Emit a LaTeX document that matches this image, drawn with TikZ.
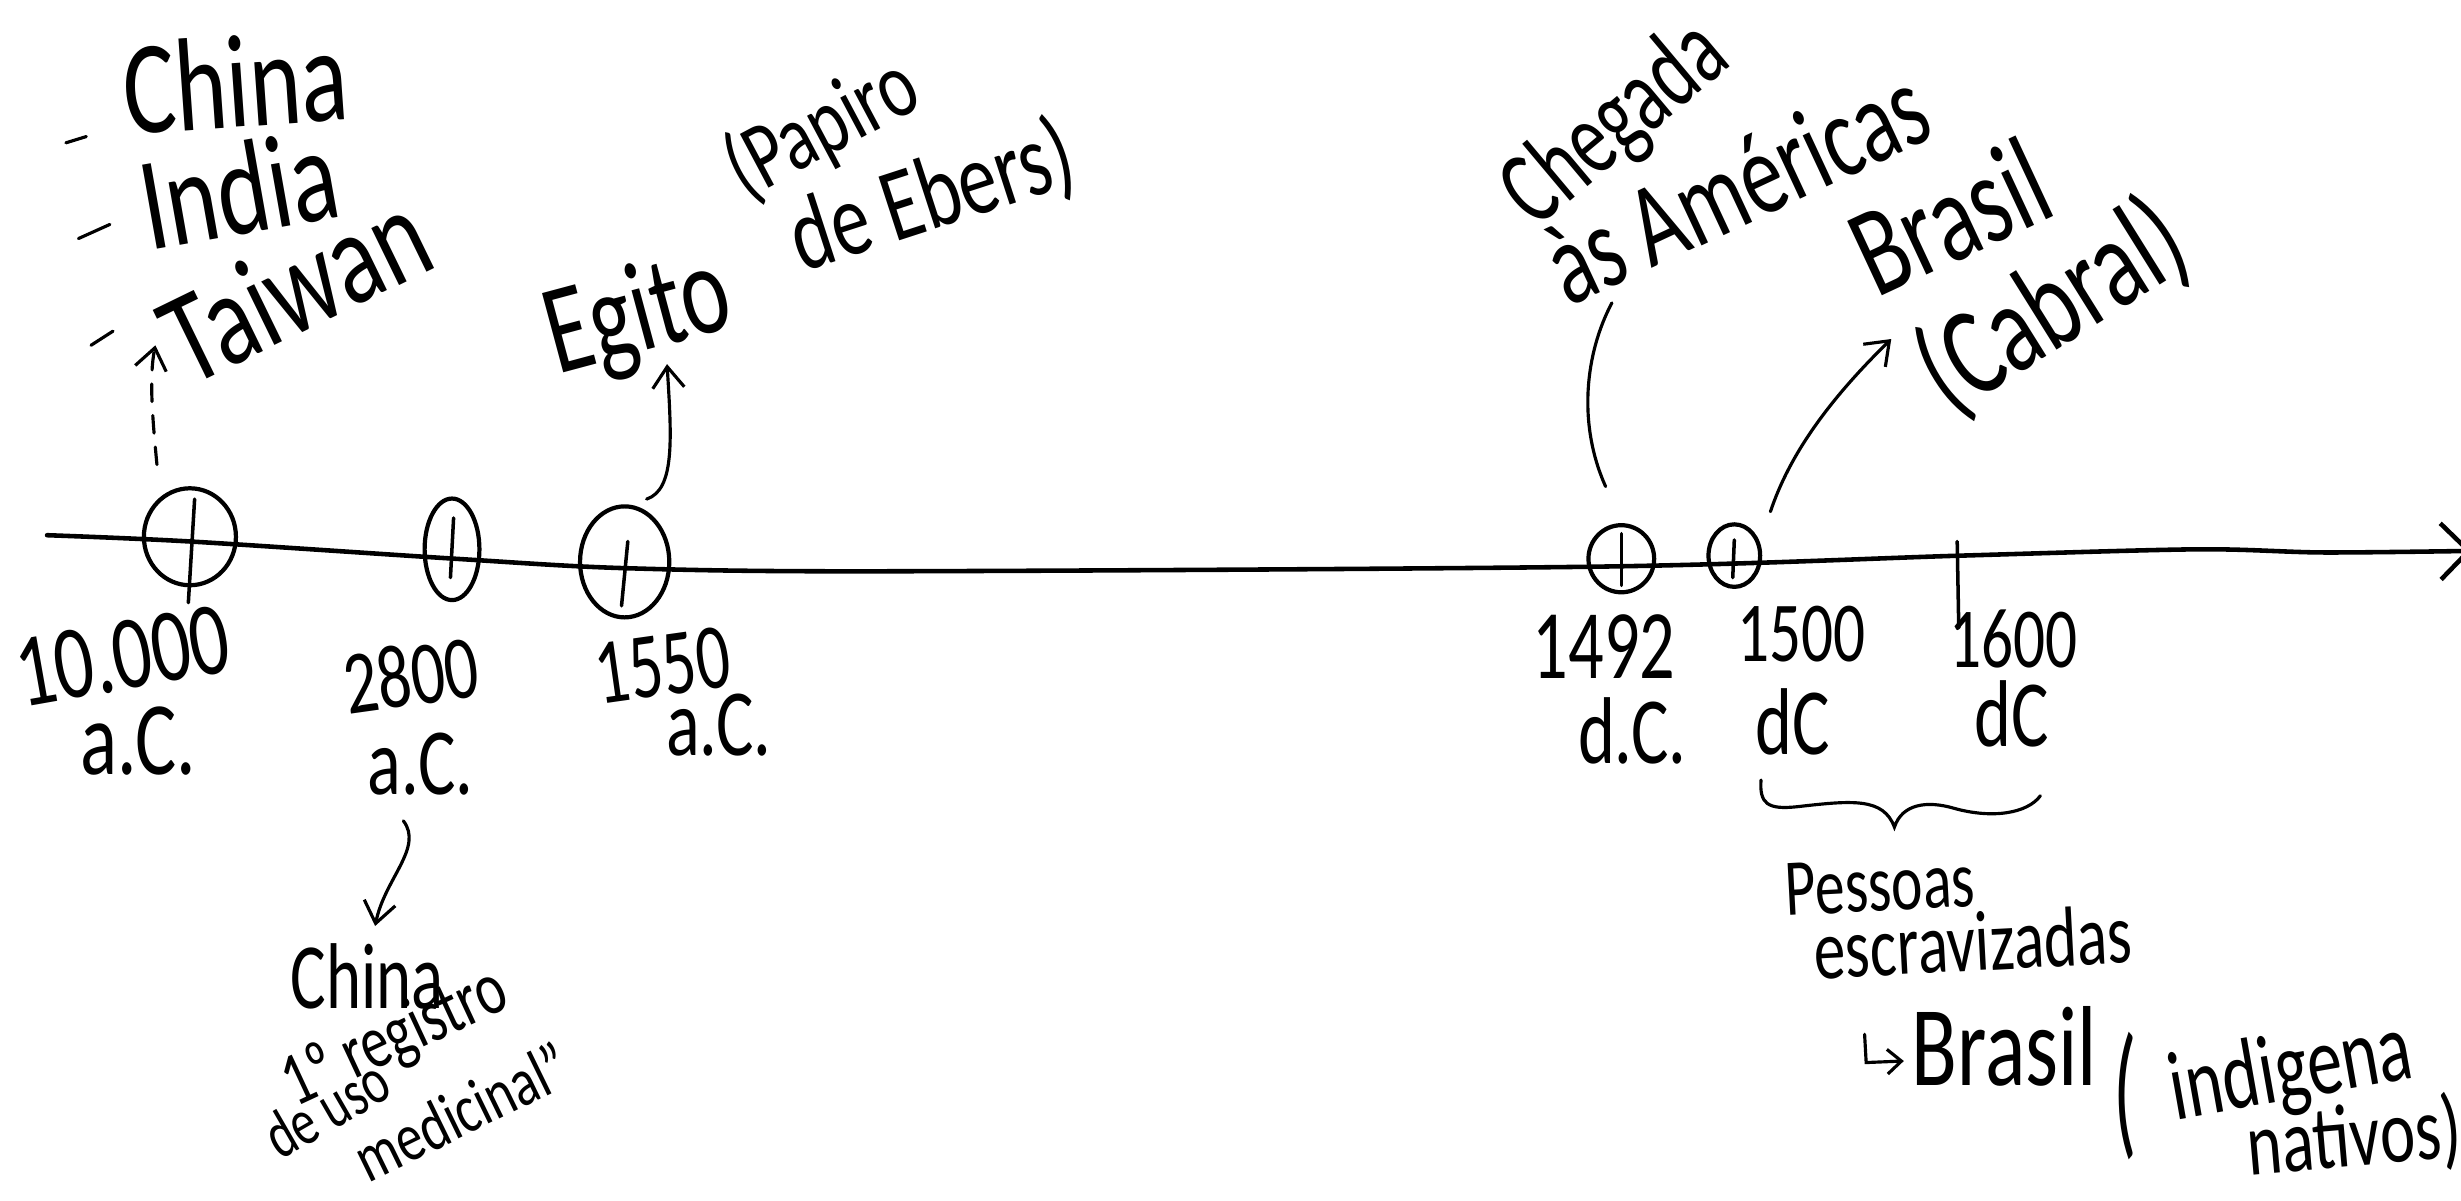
\documentclass[tikz,border=0pt]{standalone}
\usepackage{fontspec}
\setmainfont{Carlito}
\usepackage{graphicx}
\usetikzlibrary{arrows.meta,shapes.geometric}
\newcommand\hw[3]{{\fontsize{#1}{#1}\selectfont\scalebox{1}[#2]{#3}}}
\begin{document}
\begin{tikzpicture}[x=0.015695cm,y=-0.015695cm,
  ev/.style={draw, ellipse, line width=1.2pt, inner sep=0pt},
  txt/.style={inner sep=0pt},
  pen/.style={line width=0.9pt, line cap=round},
  con/.style={pen, -{Straight Barb[length=6pt,width=9pt]}},
  tk/.style={line width=1pt, line cap=round}
]
\useasboundingbox (0,0) rectangle (1568,765);
\fill[white] (0,0) rectangle (1568,765);

% timeline
\draw[line width=1.3pt, line cap=round, -{Straight Barb[length=8pt,width=16pt]}]
  plot[smooth] coordinates {(30,341) (121,345) (290,356) (398,362) (560,364) (1020,361) (1250,354) (1400,350) (1480,352) (1575,351)};

% event circles
\node[ev, minimum width=26.2pt, minimum height=27.6pt] (c1) at (121,342) {};
\node[ev, minimum width=15.6pt, minimum height=28.9pt] (c2) at (288,350) {};
\node[ev, minimum width=25.4pt, minimum height=31.6pt] (c3) at (398,358) {};
\node[ev, minimum width=18.7pt, minimum height=19.1pt] (c4) at (1033,356) {};
\node[ev, minimum width=14.7pt, minimum height=17.8pt] (c5) at (1105,354) {};

% ticks
\draw[tk] (124,318) -- (120,384);
\draw[tk] (289,330) -- (287,368);
\draw[tk] (400,345) -- (396,386);
\draw[tk] (1033,340) -- (1033,373);
\draw[tk] (1105,344) -- (1104,368);
\coordinate (t6a) at (1247,345); \coordinate (t6b) at (1248,400);
\draw[tk] (t6a) -- (t6b);

% date labels
\node[txt, rotate=10] (l1a) at (78,418) {\hw{22}{1.35}{10.000}};
\node[txt] (l1b) at (88,472) {\hw{22}{1.35}{a.C.}};
\node[txt, rotate=8] (l2a) at (262,430) {\hw{19}{1.35}{2800}};
\node[txt] (l2b) at (268,487) {\hw{20}{1.35}{a.C.}};
\node[txt, rotate=8] (l3a) at (422,424) {\hw{19}{1.4}{1550}};
\node[txt] (l3b) at (458,462) {\hw{20}{1.35}{a.C.}};
\node[txt] (l4a) at (1022,412) {\hw{20}{1.4}{1492}};
\node[txt] (l4b) at (1040,466) {\hw{20}{1.35}{d.C.}};
\node[txt] (l5a) at (1148,404) {\hw{18}{1.35}{1500}};
\node[txt] (l5b) at (1142,460) {\hw{20}{1.35}{dC}};
\node[txt] (l6a) at (1283,407) {\hw{18}{1.35}{1600}};
\node[txt] (l6b) at (1282,455) {\hw{20}{1.35}{dC}};

% top-left list
\node[txt, rotate=4] (tChina) at (150,52) {\hw{28}{1.35}{China}};
\node[txt, rotate=10] (tIndia) at (152,120) {\hw{28}{1.35}{India}};
\node[txt, rotate=26] (tTaiwan) at (188,182) {\hw{28}{1.35}{Taiwan}};
\draw[pen] (42,91) -- (55,87);
\draw[pen] (50,152) -- (70,143);
\draw[pen] (58,220) -- (72,211);

% dotted arrow to Taiwan
\coordinate (a1s) at (100,296); \coordinate (a1e) at (99,220);
\draw[con, dash pattern=on 5pt off 4pt] (a1s) .. controls (97,265) and (95,240) .. (a1e);

% Egito
\node[txt, rotate=15] (egito) at (407,203) {\hw{26}{1.4}{Egito}};
\node[txt, rotate=28] (papiro) at (524,82) {\hw{20}{1.35}{(Papiro}};
\node[txt, rotate=18] (ebers) at (594,126) {\hw{22}{1.35}{de Ebers)}};
\coordinate (a3s) at (412,318); \coordinate (a3e) at (425,232);
\draw[con] (a3s) .. controls (430,312) and (428,280) .. (a3e);

% 2800 -> China
\coordinate (a2s) at (257,523); \coordinate (a2e) at (239,590);
\draw[con] (a2s) .. controls (270,540) and (245,560) .. (a2e);
\node[txt] (china2) at (234,622) {\hw{19}{1.4}{China}};
\node[txt, rotate=25] (registro) at (252,662) {\hw{16}{1.35}{1º registro}};
\node[txt, rotate=30] (uso) at (208,706) {\hw{14}{1.35}{de uso}};
\node[txt, rotate=26] (medicinal) at (294,708) {\hw{15}{1.3}{medicinal”}};

% Chegada as Americas
\node[txt, rotate=40] (chegada) at (1030,80) {\hw{21}{1.45}{Chegada}};
\node[txt, rotate=25] (americas) at (1106,118) {\hw{24}{1.4}{às Américas}};
\coordinate (a4s) at (1023,310); \coordinate (a4e) at (1027,193);
\draw[pen] (a4s) .. controls (1005,270) and (1010,225) .. (a4e);

% Brasil (Cabral)
\node[txt, rotate=25] (brasil) at (1242,138) {\hw{26}{1.4}{Brasil}};
\node[txt, rotate=32] (cabral) at (1308,196) {\hw{26}{1.4}{(Cabral)}};
\coordinate (a5s) at (1128,326); \coordinate (a5e) at (1205,216);
\draw[con] (a5s) .. controls (1140,290) and (1165,255) .. (a5e);

% brace
\coordinate (b1) at (1122,497); \coordinate (btip) at (1207,527); \coordinate (b2) at (1300,507);
\draw[pen] (b1) .. controls (1121,512) and (1126,516) .. (1145,514)
  .. controls (1180,510) and (1200,508) .. (btip)
  .. controls (1212,512) and (1228,510) .. (1245,515)
  .. controls (1270,522) and (1292,518) .. (b2);

\node[txt, rotate=3] (pessoas) at (1198,564) {\hw{17}{1.35}{Pessoas}};
\node[txt, rotate=3] (escrav) at (1257,600) {\hw{18}{1.35}{escravizadas}};

% hook arrow -> Brasil (indigena nativos)
\coordinate (hk1) at (1188,659); \coordinate (hk2) at (1213,676);
\draw[pen, -{Straight Barb[length=4pt,width=7pt]}] (hk1) -- (1189,677) -- (hk2);
\node[txt] (brasil2) at (1277,667) {\hw{24}{1.35}{Brasil}};
\node[txt] (paren) at (1354,698) {\hw{22}{1.9}{(}};
\node[txt, rotate=10] (indigena) at (1460,684) {\hw{20}{1.4}{indigena}};
\node[txt, rotate=5] (nativos) at (1500,726) {\hw{19}{1.35}{nativos)}};
\end{tikzpicture}
\end{document}
